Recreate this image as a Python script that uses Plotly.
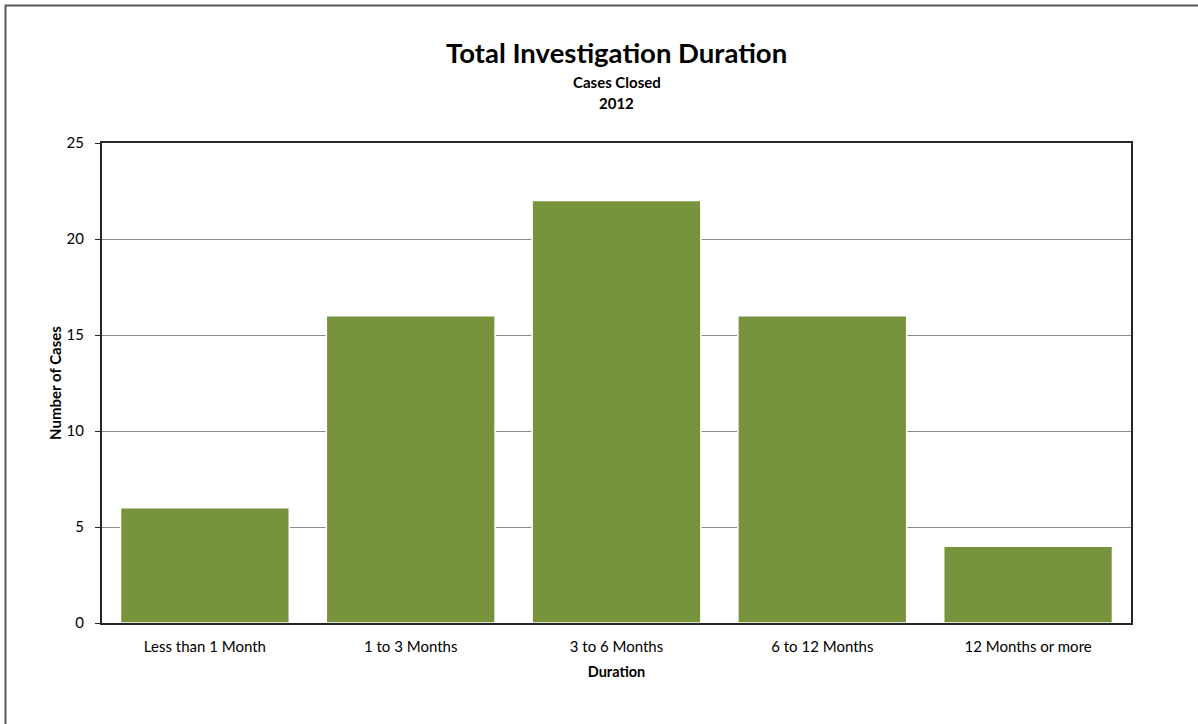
import plotly.graph_objects as go

categories = ["Less than 1 Month", "1 to 3 Months", "3 to 6 Months", "6 to 12 Months", "12 Months or more"]
cases = [6, 16, 22, 16, 4]
y_ticks = [0, 5, 10, 15, 20, 25]

FONT = "Lato, Carlito, Calibri, sans-serif"
W, H = 1198, 724
L, R, T, B = 102, 67, 143, 101
pw, ph = W - L - R, H - T - B

def px(x):
    return (x - L) / pw

def py(y):
    return (H - B - y) / ph

fig = go.Figure()
fig.add_trace(go.Bar(
    x=categories, y=cases,
    marker=dict(color="#77933C", line=dict(color="white", width=1.5)),
    hoverinfo="x+y",
))

fig.update_layout(
    width=W, height=H,
    margin=dict(l=L, r=R, t=T, b=B),
    paper_bgcolor="white", plot_bgcolor="white",
    bargap=0.18,
    showlegend=False,
    font=dict(family=FONT, color="#000000", size=15),
    xaxis=dict(
        showline=True, linecolor="#262626", linewidth=2, mirror=True,
        showgrid=False, ticks="", tickfont=dict(size=15),
        ticklabelstandoff=9,
        title=dict(text="<b>Duration</b>", font=dict(size=14.5), standoff=13),
    ),
    yaxis=dict(
        range=[0, 25], tickvals=y_ticks,
        showline=True, linecolor="#262626", linewidth=2, mirror=True,
        showgrid=True, gridcolor="#8c8c8c", gridwidth=1,
        ticks="outside", ticklen=5, tickcolor="#262626",
        ticklabelstandoff=8, tickfont=dict(size=15),
        zeroline=False,
        title=dict(text="<b>Number of Cases</b>", font=dict(size=15), standoff=1),
    ),
    annotations=[
        dict(text="<b>Total Investigation Duration</b>", x=0.5, y=py(52.5), xref="paper", yref="paper",
             showarrow=False, font=dict(size=27.5), xanchor="center", yanchor="middle"),
        dict(text="<b>Cases Closed</b>", x=0.5, y=py(82), xref="paper", yref="paper",
             showarrow=False, font=dict(size=15), xanchor="center", yanchor="middle"),
        dict(text="<b>2012</b>", x=0.5, y=py(103), xref="paper", yref="paper",
             showarrow=False, font=dict(size=15), xanchor="center", yanchor="middle"),
    ],
    shapes=[
        dict(type="rect", xref="paper", yref="paper",
             x0=px(5.5), x1=px(1210), y0=py(5.5), y1=py(740),
             line=dict(color="#595959", width=2), fillcolor="rgba(0,0,0,0)", layer="below"),
    ],
)

fig.write_html(
    "out.html",
    config={"displayModeBar": False},
    post_script="document.body.style.margin='0';document.body.style.overflow='hidden';",
)
